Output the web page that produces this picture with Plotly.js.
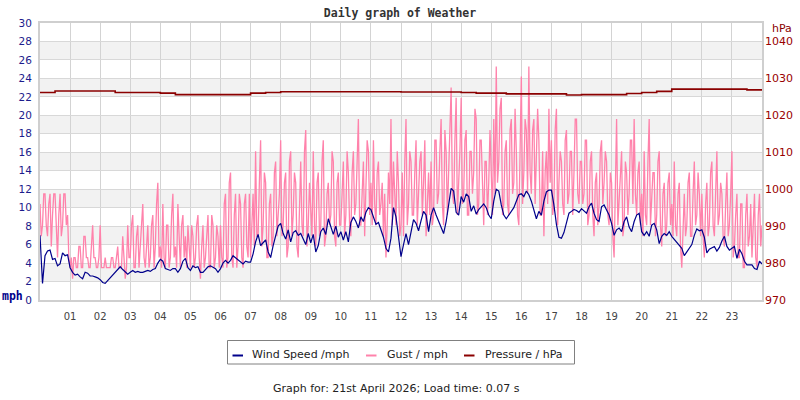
<!DOCTYPE html>
<html>
<head>
<meta charset="utf-8">
<script src="https://cdn.plot.ly/plotly-3.0.1.min.js"></script>
<style>
  html, body { margin: 0; padding: 0; background: #fff; }
  #myDiv { width: 800px; height: 400px; }
</style>
</head>
<body>
<div id="myDiv"></div>
<script>
// wind: 5-minute samples from midnight (hours on the x axis)
const windSpeed = [
    7.0, 1.8, 4.8, 5.3, 5.4, 4.4, 4.5, 3.7, 3.9, 5.1, 4.8, 4.9,
    3.5, 3.0, 2.7, 2.8, 2.5, 2.3, 3.0, 2.9, 2.6, 2.6, 2.5, 2.4,
    2.2, 1.9, 1.8, 2.1, 2.5, 2.8, 3.0, 3.4, 3.6, 3.3, 3.0, 2.8,
    3.0, 3.2, 3.0, 3.1, 3.0, 3.0, 3.1, 3.2, 3.1, 3.3, 3.4, 4.0,
    4.4, 4.2, 3.4, 3.3, 3.2, 3.4, 3.4, 3.0, 3.4, 4.2, 4.5, 3.5,
    3.2, 3.7, 3.5, 3.6, 3.0, 3.0, 3.3, 3.6, 3.7, 3.5, 3.4, 3.0,
    3.4, 4.0, 4.3, 4.0, 4.3, 4.8, 4.6, 4.4, 4.2, 3.9, 4.2, 4.1,
    4.1, 5.0, 6.3, 7.1, 5.9, 6.2, 6.5, 5.2, 4.6, 5.9, 7.1, 8.0,
    8.3, 7.2, 6.6, 7.6, 6.3, 7.3, 7.5, 7.0, 7.2, 6.6, 6.0, 7.2,
    6.2, 7.1, 5.2, 5.9, 7.4, 7.8, 7.1, 8.8, 7.8, 7.1, 8.0, 6.8,
    7.4, 6.5, 7.4, 6.3, 8.4, 9.0, 8.5, 7.8, 9.0, 8.5, 9.5, 10.0,
    9.8, 8.9, 8.2, 8.4, 7.6, 6.8, 5.6, 5.2, 6.7, 10.0, 9.0, 6.5,
    4.7, 6.0, 7.2, 6.0, 7.2, 8.7, 8.3, 7.5, 8.6, 9.6, 9.2, 7.4,
    9.2, 10.0, 9.2, 8.5, 7.9, 7.2, 8.5, 10.3, 12.1, 11.8, 9.5, 9.2,
    11.2, 10.6, 11.5, 11.2, 9.6, 10.2, 9.3, 9.8, 10.1, 10.4, 10.0, 9.2,
    8.8, 10.7, 12.0, 11.8, 10.3, 9.2, 8.8, 9.2, 9.6, 10.0, 10.7, 11.4,
    11.5, 11.2, 11.8, 11.4, 10.7, 9.6, 8.8, 9.6, 9.2, 10.7, 11.7, 11.9,
    11.9, 10.3, 8.2, 6.8, 6.7, 7.3, 8.3, 9.4, 9.6, 9.8, 9.7, 9.5,
    9.9, 9.7, 9.4, 10.1, 10.5, 9.4, 8.7, 8.5, 10.1, 10.3, 9.8, 9.2,
    8.3, 7.0, 7.6, 7.8, 7.4, 8.5, 9.0, 7.9, 7.4, 8.5, 9.2, 9.4,
    7.4, 7.0, 7.4, 6.9, 8.1, 8.3, 7.6, 6.1, 6.9, 7.2, 7.0, 7.4,
    6.9, 6.6, 6.3, 5.9, 5.6, 4.8, 5.2, 5.6, 6.0, 7.0, 7.7, 7.5,
    7.6, 6.8, 5.1, 5.5, 5.7, 5.8, 5.3, 5.7, 6.4, 6.9, 5.8, 5.4,
    5.6, 5.8, 4.5, 5.5, 5.0, 4.2, 3.8, 3.8, 3.8, 3.4, 3.3, 4.2,
    3.9
];

// gust: 2.5-minute samples, whole knots shown in mph
const gust = [
    10.4, 6.9, 8.1, 11.5, 11.5, 8.1, 6.9, 10.4, 11.5, 5.8, 9.2, 11.5,
    11.5, 8.1, 4.6, 9.2, 11.5, 6.9, 8.1, 11.5, 11.5, 8.1, 9.2, 4.6,
    3.5, 4.6, 2.3, 4.6, 4.6, 3.5, 3.5, 5.8, 5.8, 3.5, 3.5, 6.9,
    6.9, 4.6, 4.6, 3.5, 3.5, 5.8, 8.1, 4.6, 4.6, 3.5, 3.5, 4.6,
    8.1, 3.5, 3.5, 3.5, 4.6, 3.5, 3.5, 3.5, 3.5, 4.6, 4.6, 3.5,
    3.5, 4.6, 5.8, 3.5, 3.5, 3.5, 6.9, 4.6, 2.3, 3.5, 8.1, 4.6,
    4.6, 8.1, 9.2, 3.5, 3.5, 6.9, 8.1, 3.5, 5.8, 9.2, 10.4, 4.6,
    3.5, 5.8, 8.1, 3.5, 4.6, 8.1, 9.2, 3.5, 5.8, 10.4, 12.7, 4.6,
    5.8, 3.5, 10.4, 4.6, 3.5, 8.1, 8.1, 3.5, 4.6, 9.2, 11.5, 4.6,
    5.8, 3.5, 10.4, 6.9, 3.5, 8.1, 9.2, 4.6, 6.9, 3.5, 8.1, 5.8,
    3.5, 8.1, 6.9, 3.5, 4.6, 8.1, 9.2, 4.6, 2.3, 5.8, 8.1, 3.5,
    4.6, 6.9, 9.2, 3.5, 3.5, 9.2, 8.1, 3.5, 4.6, 8.1, 6.9, 3.5,
    8.1, 4.6, 3.5, 10.4, 11.5, 3.5, 4.6, 12.7, 13.8, 4.6, 3.5, 9.2,
    11.5, 3.5, 5.8, 11.5, 10.4, 4.6, 3.5, 10.4, 11.5, 5.8, 4.6, 11.5,
    4.6, 8.1, 11.5, 5.8, 16.1, 6.9, 6.9, 12.7, 17.3, 5.8, 8.1, 13.8,
    12.7, 4.6, 4.6, 10.4, 11.5, 5.8, 6.9, 13.8, 15.0, 6.9, 9.2, 11.5,
    17.3, 6.9, 8.1, 12.7, 13.8, 4.6, 5.8, 15.0, 16.1, 6.9, 9.2, 13.8,
    12.7, 5.8, 4.6, 11.5, 15.0, 8.1, 6.9, 16.1, 18.4, 5.8, 8.1, 12.7,
    10.4, 6.9, 16.1, 8.1, 5.8, 12.7, 13.8, 6.9, 8.1, 15.0, 17.3, 5.8,
    6.9, 11.5, 12.7, 8.1, 9.2, 16.1, 15.0, 6.9, 5.8, 12.7, 13.8, 8.1,
    8.1, 12.7, 15.0, 6.9, 9.2, 16.1, 13.8, 8.1, 6.9, 13.8, 16.1, 9.2,
    10.4, 15.0, 19.6, 8.1, 8.1, 11.5, 15.0, 6.9, 11.5, 17.3, 16.1, 9.2,
    12.7, 8.1, 17.3, 10.4, 8.1, 13.8, 15.0, 9.2, 10.4, 12.7, 6.9, 11.5,
    4.6, 8.1, 13.8, 10.4, 19.6, 8.1, 15.0, 11.5, 8.1, 16.1, 12.7, 6.9,
    8.1, 13.8, 6.9, 15.0, 19.6, 8.1, 10.4, 16.1, 15.0, 9.2, 9.2, 13.8,
    17.3, 8.1, 11.5, 15.0, 16.1, 9.2, 12.7, 17.3, 6.9, 11.5, 13.8, 9.2,
    15.0, 8.1, 9.2, 17.3, 17.3, 10.4, 11.5, 16.1, 19.6, 10.4, 8.1, 18.4,
    16.1, 9.2, 13.8, 20.7, 23.0, 11.5, 10.4, 17.3, 21.9, 9.2, 12.7, 16.1,
    21.9, 10.4, 11.5, 17.3, 18.4, 9.2, 9.2, 16.1, 16.1, 11.5, 13.8, 20.7,
    19.6, 9.2, 10.4, 17.3, 17.3, 11.5, 8.1, 15.0, 15.0, 9.2, 12.7, 18.4,
    13.8, 9.2, 19.6, 11.5, 25.3, 12.7, 15.0, 20.7, 21.9, 9.2, 10.4, 16.1,
    17.3, 10.4, 9.2, 18.4, 19.6, 11.5, 12.7, 20.7, 16.1, 9.2, 8.1, 15.0,
    24.2, 10.4, 13.8, 19.6, 18.4, 11.5, 25.3, 13.8, 11.5, 18.4, 19.6, 10.4,
    15.0, 20.7, 17.3, 9.2, 9.2, 16.1, 6.9, 13.8, 16.1, 10.4, 20.7, 12.7,
    17.3, 9.2, 10.4, 18.4, 20.7, 8.1, 12.7, 16.1, 15.0, 10.4, 9.2, 17.3,
    18.4, 10.4, 11.5, 16.1, 16.1, 9.2, 13.8, 19.6, 19.6, 11.5, 10.4, 15.0,
    15.0, 10.4, 11.5, 17.3, 17.3, 8.1, 9.2, 15.0, 16.1, 9.2, 6.9, 12.7,
    13.8, 8.1, 10.4, 16.1, 17.3, 10.4, 12.7, 16.1, 15.0, 9.2, 8.1, 13.8,
    12.7, 6.9, 4.6, 15.0, 19.6, 8.1, 10.4, 13.8, 16.1, 6.9, 8.1, 15.0,
    13.8, 9.2, 11.5, 17.3, 17.3, 10.4, 19.6, 11.5, 9.2, 13.8, 15.0, 8.1,
    11.5, 6.9, 16.1, 9.2, 8.1, 15.0, 19.6, 8.1, 10.4, 13.8, 13.8, 6.9,
    9.2, 15.0, 16.1, 8.1, 5.8, 11.5, 12.7, 6.9, 8.1, 12.7, 13.8, 8.1,
    10.4, 6.9, 15.0, 8.1, 6.9, 11.5, 12.7, 5.8, 3.5, 9.2, 11.5, 6.9,
    8.1, 12.7, 13.8, 6.9, 6.9, 11.5, 15.0, 8.1, 9.2, 13.8, 11.5, 6.9,
    11.5, 6.9, 4.6, 10.4, 12.7, 6.9, 8.1, 13.8, 15.0, 8.1, 6.9, 11.5,
    16.1, 8.1, 9.2, 12.7, 11.5, 6.9, 5.8, 10.4, 13.8, 6.9, 8.1, 11.5,
    16.1, 4.6, 5.8, 9.2, 11.5, 4.6, 4.6, 10.4, 10.4, 3.5, 3.5, 9.2,
    11.5, 5.8, 6.9, 10.4, 4.6, 8.1, 11.5, 4.6, 3.5, 9.2, 11.5, 5.8,
    8.1
];

// half-hourly pressure readings, hPa
const pressure = [
    1026.2, 1026.6, 1026.6, 1026.6, 1026.6, 1026.2, 1026.2, 1026.2,
    1026.0, 1025.6, 1025.6, 1025.6, 1025.6, 1025.6, 1026.0, 1026.2,
    1026.4, 1026.4, 1026.4, 1026.4, 1026.4, 1026.4, 1026.4, 1026.4,
    1026.3, 1026.3, 1026.3, 1026.3, 1026.2, 1026.0, 1026.0, 1025.8,
    1025.8, 1025.8, 1025.8, 1025.5, 1025.6, 1025.6, 1025.6, 1025.9,
    1026.2, 1026.5, 1027.1, 1027.1, 1027.1, 1027.1, 1027.1, 1026.9,
    1026.9
];

const hourTicks = [1, 2, 3, 4, 5, 6, 7, 8, 9, 10, 11, 12, 13, 14, 15, 16, 17, 18, 19, 20, 21, 22, 23];
const hourLabels = ["01", "02", "03", "04", "05", "06", "07", "08", "09", "10", "11", "12",
    "13", "14", "15", "16", "17", "18", "19", "20", "21", "22", "23"];
const bandStarts = [2, 6, 10, 14, 18, 22, 26];

const seriesNames = ["Wind Speed /mph", "Gust / mph", "Pressure / hPa"];
const seriesColors = ["#00008b", "#ff82ab", "#8b0000"];

// plot area in pixels: x 40..762, y 23..300
const px = (x) => (x - 40) / 722;
const py = (y) => (300 - y) / 277;

const FONT = "DejaVu Sans, Verdana, sans-serif";

var data = [
    {
        type: "scatter",
        mode: "lines",
        name: seriesNames[1],
        x0: 0,
        dx: 1 / 24,
        y: gust,
        line: { color: seriesColors[1], width: 1.3 },
        showlegend: false,
    },
    {
        type: "scatter",
        mode: "lines",
        name: seriesNames[0],
        x0: 0,
        dx: 1 / 12,
        y: windSpeed,
        line: { color: seriesColors[0], width: 1.2 },
        showlegend: false,
    },
    {
        type: "scatter",
        mode: "lines",
        name: seriesNames[2],
        x0: 0,
        dx: 0.5,
        y: pressure,
        yaxis: "y2",
        line: { color: seriesColors[2], width: 1.6, shape: "hv" },
        showlegend: false,
    },
];

let shapes = bandStarts.map((b) => ({
    type: "rect",
    xref: "x",
    yref: "y",
    x0: 0,
    x1: 24,
    y0: b,
    y1: b + 2,
    fillcolor: "#f2f2f2",
    line: { width: 0 },
    layer: "below",
}));

// hand made legend, the library one draws its keys too long
shapes.push({
    type: "rect",
    xref: "paper",
    yref: "paper",
    x0: px(227.5),
    x1: px(574.5),
    y0: py(340.5),
    y1: py(364),
    line: { color: "#808080", width: 1 },
    fillcolor: "rgba(0,0,0,0)",
});
const keyStarts = [232.5, 366, 464];
const textStarts = [251, 386, 483.5];
let annotations = [];
keyStarts.forEach((k, i) => {
    shapes.push({
        type: "line",
        xref: "paper",
        yref: "paper",
        x0: px(k),
        x1: px(k + 10.5),
        y0: py(355.5),
        y1: py(355.5),
        line: { color: seriesColors[i], width: 2 },
    });
    annotations.push({
        xref: "paper",
        yref: "paper",
        x: px(textStarts[i]),
        y: py(354),
        xanchor: "left",
        yanchor: "middle",
        showarrow: false,
        borderpad: 0,
        text: seriesNames[i],
        font: { family: FONT, size: 11, color: "#222" },
    });
});

annotations.push(
    {
        xref: "paper",
        yref: "paper",
        x: px(12),
        y: py(296),
        xanchor: "center",
        yanchor: "middle",
        showarrow: false,
        text: "<b>mph</b>",
        font: { family: "DejaVu Sans Mono, monospace", size: 11.5, color: "#00008b" },
    },
    {
        xref: "paper",
        yref: "paper",
        x: px(782.5),
        y: py(29),
        xanchor: "center",
        yanchor: "middle",
        showarrow: false,
        text: "hPa",
        font: { family: FONT, size: 11, color: "#8b0000" },
    },
    {
        xref: "paper",
        yref: "paper",
        x: px(396),
        y: py(388),
        xanchor: "center",
        yanchor: "middle",
        showarrow: false,
        text: "Graph for: 21st April 2026; Load time: 0.07 s",
        font: { family: FONT, size: 11, color: "#222" },
    }
);

let layout = {
    width: 800,
    height: 400,
    margin: { l: 40, r: 38, t: 23, b: 100, pad: 0 },
    paper_bgcolor: "white",
    plot_bgcolor: "white",
    showlegend: false,
    title: {
        text: "<b>Daily graph of Weather</b>",
        font: { family: "DejaVu Sans Mono, monospace", size: 11.5, color: "#333" },
        x: 0.5,
        xanchor: "center",
        y: 1 - 13 / 400,
        yanchor: "middle",
        yref: "container",
    },
    xaxis: {
        range: [0, 24],
        tickvals: hourTicks,
        ticktext: hourLabels,
        ticks: "",
        showgrid: true,
        gridcolor: "#d3d3d3",
        gridwidth: 1,
        zeroline: false,
        showline: true,
        mirror: true,
        linecolor: "#cfcfcf",
        linewidth: 2,
        ticklabelstandoff: 6,
        tickfont: { family: FONT, size: 10, color: "#444" },
        fixedrange: true,
    },
    yaxis: {
        range: [0, 30],
        tick0: 0,
        dtick: 2,
        ticks: "",
        showgrid: true,
        gridcolor: "#d8d8d8",
        gridwidth: 1,
        zeroline: false,
        showline: true,
        mirror: true,
        linecolor: "#cfcfcf",
        linewidth: 2,
        ticklabelstandoff: 4,
        tickfont: { family: FONT, size: 10.5, color: "#1c1c8c" },
        fixedrange: true,
    },
    yaxis2: {
        overlaying: "y",
        side: "right",
        range: [970, 1045],
        tick0: 970,
        dtick: 10,
        ticks: "",
        showgrid: false,
        zeroline: false,
        showline: false,
        ticklabelstandoff: 2,
        tickfont: { family: FONT, size: 11, color: "#990000" },
        fixedrange: true,
    },
    shapes: shapes,
    annotations: annotations,
};

Plotly.newPlot("myDiv", data, layout, {
    displayModeBar: false,
    staticPlot: true,
});
</script>
</body>
</html>
